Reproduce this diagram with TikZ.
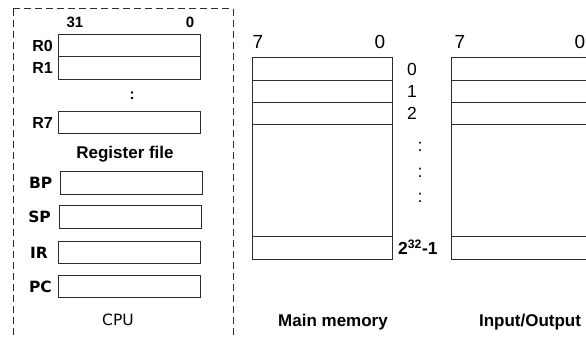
\documentclass[tikz,border=0pt]{standalone}
\usepackage{fontspec}
\setmainfont{Liberation Sans}
\newfontfamily\tahomaish{DejaVu Sans}
\usetikzlibrary{positioning}
\definecolor{boxInk}{RGB}{45,45,45}
\tikzset{
  regbox/.style={draw=boxInk, line width=1pt, minimum width=142pt, minimum height=22.5pt, inner sep=0pt, outer sep=0pt},
  cellbox/.style={draw=boxInk, line width=1pt, minimum width=140pt, minimum height=22pt, inner sep=0pt, outer sep=0pt},
  reglbl/.style={font=\fontsize{16}{18}\selectfont\bfseries, inner sep=1pt},
  spclbl/.style={font=\tahomaish\fontsize{15.5}{18}\selectfont\bfseries, inner sep=1pt},
  bitlbl/.style={font=\fontsize{15}{17}\selectfont\bfseries, inner sep=1pt},
  hdrlbl/.style={font=\fontsize{19}{21}\selectfont, inner sep=1pt},
  addrlbl/.style={font=\fontsize{17.5}{20}\selectfont, inner sep=1pt},
  title/.style={font=\fontsize{17}{19}\selectfont\bfseries, inner sep=1pt},
  cpuframe/.style={draw=boxInk, line width=1pt, dash pattern=on 7pt off 4pt}
}
\begin{document}
\begin{tikzpicture}[x=1pt, y=-1pt]
  \useasboundingbox (0,0) rectangle (586,337);
  % CPU outline
  \draw[cpuframe] (13,9) -- (233,9) (13,9) -- (13,345) (233,9) -- (233,345);
  % register file
  \node[regbox] (r0) at (129,45.5) {};
  \node[regbox, below=0pt of r0] (r1) {};
  \node[regbox] (r7) at (129,122.5) {};
  \node[reglbl, left=4pt of r0] (lr0) {R0};
  \node[reglbl, left=4pt of r1] (lr1) {R1};
  \node[reglbl, left=4pt of r7] (lr7) {R7};
  \node[bitlbl] (rhi) at (75,22) {31};
  \node[bitlbl] (rlo) at (190,22) {0};
  \node[bitlbl] (rdots) at (132,96) {:};
  \node[title] (rfile) at (125,154) {Register file};
  % special registers
  \node[regbox] (bp) at (131.5,183) {};
  \node[regbox] (sp) at (130,217) {};
  \node[regbox] (ir) at (129,252.5) {};
  \node[regbox] (pc) at (129,286.5) {};
  \node[spclbl, left=7pt of bp] (lbp) {BP};
  \node[spclbl, left=7pt of sp] (lsp) {SP};
  \node[spclbl, left=9pt of ir] (lir) {IR};
  \node[spclbl, left=5pt of pc] (lpc) {PC};
  \node[font=\tahomaish\fontsize{15.5}{18}\selectfont, inner sep=1pt] (cpu) at (118,320) {CPU};
  % main memory
  \node[cellbox] (m0) at (322,69) {};
  \node[cellbox, below=0pt of m0] (m1) {};
  \node[cellbox, below=0pt of m1] (m2) {};
  \node[cellbox, below=0pt of m2, minimum height=112pt] (mmid) {};
  \node[cellbox, below=0pt of mmid, minimum height=23pt] (mlast) {};
  \node[hdrlbl] (mhi) at (258,42) {7};
  \node[hdrlbl] (mlo) at (380,42) {0};
  \node[addrlbl, right=14pt of m0] (a0) {0};
  \node[addrlbl, right=14pt of m1] (a1) {1};
  \node[addrlbl, right=14pt of m2] (a2) {2};
  \foreach \yy in {147,173,198}
    \node[addrlbl] at (420,\yy) {:};
  \node[addrlbl, font=\fontsize{17.5}{20}\selectfont\bfseries, right=5pt of mlast] (alast) {2\textsuperscript{32}-1};
  \node[title] (mtitle) at (333,322) {Main memory};
  % input/output
  \node[cellbox] (io0) at (521,69) {};
  \node[cellbox, below=0pt of io0] (io1) {};
  \node[cellbox, below=0pt of io1] (io2) {};
  \node[cellbox, below=0pt of io2, minimum height=112pt] (iomid) {};
  \node[cellbox, below=0pt of iomid, minimum height=23pt] (iolast) {};
  \node[hdrlbl] (iohi) at (460,42) {7};
  \node[hdrlbl] (iolo) at (580,42) {0};
  \node[title] (iotitle) at (530,322) {Input/Output};
\end{tikzpicture}
\end{document}
